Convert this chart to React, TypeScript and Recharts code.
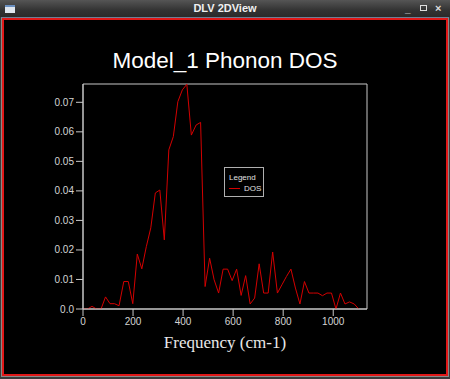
import { LineChart, Line, XAxis, YAxis, ReferenceArea } from "recharts"

// frequency grid (cm-1)
const FREQ = [
  0, 18, 36, 54, 72, 90, 108, 126, 144, 163, 181, 199, 217, 235, 253, 271,
  289, 307, 325, 343, 361, 379, 397, 415, 433, 452, 470, 488, 506, 524, 542,
  560, 578, 596, 614, 632, 650, 668, 686, 704, 722, 740, 758, 777, 795, 813,
  831, 849, 867, 885, 903, 921, 939, 957, 975, 993, 1011, 1029, 1047, 1065,
  1084, 1102,
]

const DOS = [
  0, 0, 0.0009, 0, 0, 0.0041, 0.0018, 0.0018, 0.0011, 0.0093, 0.0093, 0.0018,
  0.0186, 0.0136, 0.0211, 0.0275, 0.0393, 0.0403, 0.0234, 0.0539, 0.0584,
  0.0702, 0.0742, 0.0761, 0.0589, 0.0623, 0.0632, 0.0076, 0.0172, 0.0099,
  0.0054, 0.0135, 0.0135, 0.0096, 0.0135, 0.0046, 0.0113, 0.0017, 0.0037,
  0.0153, 0.0054, 0.0054, 0.0193, 0.0054, 0.0082, 0.011, 0.0135, 0.0071,
  0.0017, 0.0093, 0.0054, 0.0054, 0.0054, 0.0045, 0.0054, 0.0054, 0, 0.0054,
  0.0017, 0.0024, 0.0017, 0,
]

const X_TICKS = [0, 200, 400, 600, 800, 1000]
const Y_TICKS = [0, 0.01, 0.02, 0.03, 0.04, 0.05, 0.06, 0.07]
const X_MAX = 1135
const Y_MAX = 0.0762

const data = FREQ.map((f, i) => ({ freq: f, dos: DOS[i] }))

const AXIS = "#c8c8c8"
const LINE = "#d40000"
const tickStyle = { fill: "#d4d4d4", fontSize: 10, fontFamily: "Liberation Sans, Arial, sans-serif" }

function LegendBox() {
  return (
    <div
      style={{
        position: "absolute",
        left: 224,
        top: 167,
        width: 40,
        height: 30,
        border: "1px solid #b0b0b0",
        background: "#000",
        fontFamily: "Liberation Sans, Arial, sans-serif",
        fontSize: 8,
        color: "#e0e0e0",
        boxSizing: "border-box",
      }}
    >
      <div style={{ position: "absolute", left: 4, top: 5 }}>Legend</div>
      <div style={{ position: "absolute", left: 4, top: 20, width: 11, height: 1, background: LINE }} />
      <div style={{ position: "absolute", left: 19, top: 16 }}>DOS</div>
    </div>
  )
}

export default function App() {
  return (
    <div style={{ position: "absolute", left: 0, top: 0, width: 450, height: 379, background: "#3a3a3a", overflow: "hidden" }}>
      {/* title bar */}
      <div
        style={{
          position: "absolute",
          left: 0,
          top: 0,
          width: 450,
          height: 17,
          background: "linear-gradient(#555 0%, #333 60%, #2a2a2a 100%)",
          color: "#f0f0f0",
          fontFamily: "Liberation Sans, Arial, sans-serif",
          fontWeight: "bold",
          fontSize: 11,
          lineHeight: "17px",
          textAlign: "center",
        }}
      >
        DLV 2DView
        <div style={{ position: "absolute", left: 5, top: 5, width: 10, height: 8, background: "#dfe6ee", borderTop: "2px solid #6a8fc0", boxSizing: "border-box" }} />
        <div style={{ position: "absolute", left: 405, top: 0, fontSize: 10, color: "#ddd" }}>_</div>
        <div style={{ position: "absolute", left: 420, top: 5, width: 7, height: 6, border: "1px solid #ddd", boxSizing: "border-box" }} />
        <div style={{ position: "absolute", left: 435, top: 0, fontSize: 11, color: "#ddd" }}>×</div>
      </div>
      {/* window frame */}
      <div
        style={{
          position: "absolute",
          left: 1,
          top: 17,
          width: 448,
          height: 360,
          borderTop: "1px solid #6e7f95",
          background: "#888",
          boxSizing: "border-box",
        }}
      />
      <div
        style={{
          position: "absolute",
          left: 2,
          top: 18,
          width: 446,
          height: 358,
          border: "2px solid #e01818",
          background: "#000",
          boxSizing: "border-box",
        }}
      />
      <div
        style={{
          position: "absolute",
          left: 0,
          top: 50,
          width: 450,
          textAlign: "center",
          color: "#fff",
          fontFamily: "Liberation Sans, Arial, sans-serif",
          fontSize: 22.5,
          lineHeight: "22px",
        }}
      >
        Model_1 Phonon DOS
      </div>
      <div style={{ position: "absolute", left: 0, top: 0 }}>
        <LineChart width={450} height={379} data={data} margin={{ top: 84, right: 83, left: 43, bottom: 25 }}>
          <XAxis
            dataKey="freq"
            type="number"
            domain={[0, X_MAX]}
            ticks={X_TICKS}
            allowDataOverflow
            stroke={AXIS}
            tickSize={7}
            tickMargin={2}
            tick={tickStyle}
            height={45}
            label={{
              value: "Frequency (cm-1)",
              position: "insideBottom",
              offset: 6,
              fill: "#e8e8e8",
              fontSize: 17,
              fontFamily: "Liberation Serif, Times New Roman, serif",
            }}
          />
          <YAxis
            type="number"
            domain={[0, Y_MAX]}
            ticks={Y_TICKS}
            allowDataOverflow
            stroke={AXIS}
            tickSize={7}
            tickMargin={2}
            width={40}
            tick={tickStyle}
            tickFormatter={(v: number) => (v === 0 ? "0.0" : v.toFixed(2))}
          />
          <ReferenceArea x1={0} x2={X_MAX} y1={0} y2={Y_MAX} fill="none" stroke={AXIS} strokeWidth={1} ifOverflow="visible" />
          <Line dataKey="dos" name="DOS" type="linear" stroke={LINE} strokeWidth={1} dot={false} isAnimationActive={false} />
        </LineChart>
      </div>
      <LegendBox />
    </div>
  )
}
